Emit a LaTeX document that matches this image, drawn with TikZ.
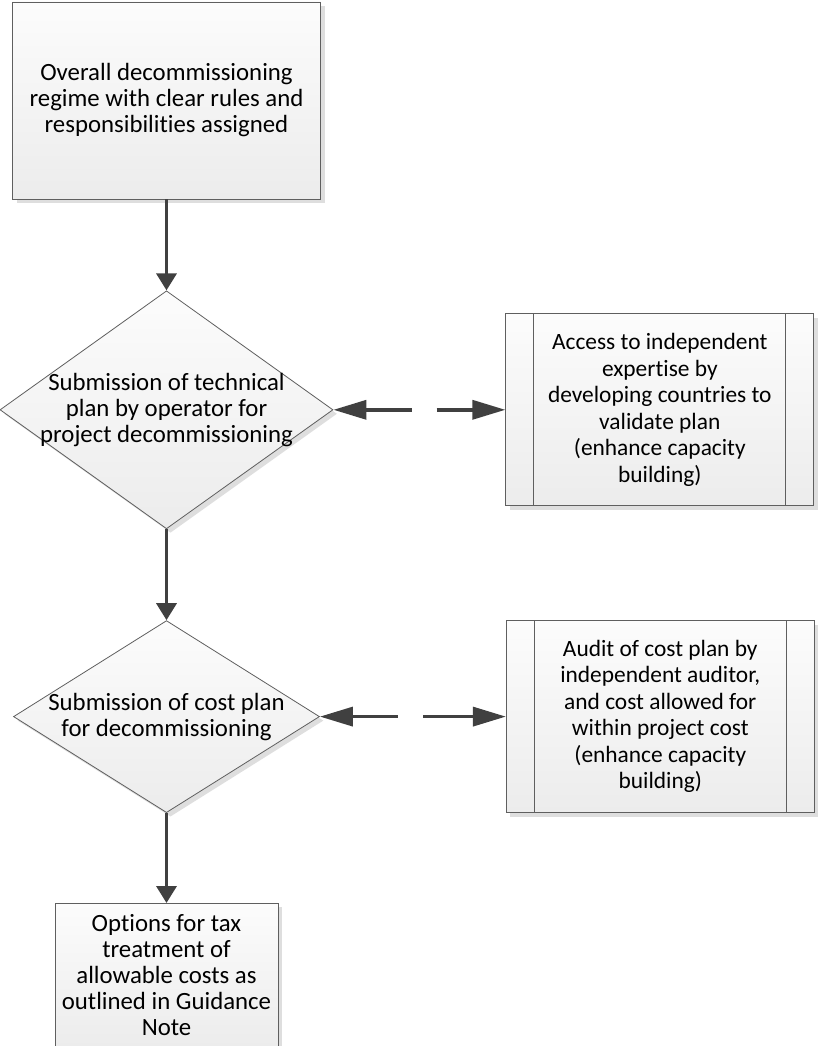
\documentclass[tikz,border=0pt]{standalone}
\usepackage{fontspec}
\setmainfont{Carlito}[Ligatures={NoCommon}]
\usepackage{tikz}
\usetikzlibrary{shapes.geometric,arrows.meta,positioning,shadows}
\definecolor{boxedge}{RGB}{95,95,95}
\definecolor{arrowgray}{RGB}{64,64,64}
\definecolor{boxtop}{RGB}{252,252,252}
\definecolor{boxbottom}{RGB}{236,236,236}
\definecolor{shadowgray}{RGB}{222,222,222}

\begin{document}
\begin{tikzpicture}[x=1pt, y=1pt, node distance=91pt,
  procbox/.style={draw=boxedge, line width=0.8pt, rectangle, top color=boxtop, bottom color=boxbottom,
    drop shadow={shadow xshift=4pt, shadow yshift=-4pt, fill=shadowgray, opacity=1},
    align=center, font=\fontsize{24.8pt}{26pt}\selectfont, inner sep=0pt},
  decision/.style={procbox, shape=diamond, inner xsep=-30pt},
  sidebox/.style={procbox, minimum width=308pt, minimum height=192pt, font=\fontsize{23.4pt}{26.5pt}\selectfont,
    path picture={\draw[boxedge, line width=0.8pt]
      ([xshift=28pt]path picture bounding box.north west) -- ([xshift=28pt]path picture bounding box.south west)
      ([xshift=-28pt]path picture bounding box.north east) -- ([xshift=-28pt]path picture bounding box.south east);}},
  flow/.style={draw=arrowgray, line width=3.5pt, -{Triangle[width=20pt,length=17pt]}},
  link/.style={draw=arrowgray, line width=3.5pt, {Triangle[width=19pt,length=33pt]}-{Triangle[width=19pt,length=33pt]},
    dash pattern=on 46pt off 25pt on 40pt off 0pt}]
  \useasboundingbox (0,0) rectangle (817,-1046);

  \node[procbox, minimum width=308pt, minimum height=197pt] (regime) at (166.5,-100.5)
    {Overall decommissioning\\regime with clear rules and\\responsibilities assigned};
  \node[decision, aspect=1.4, minimum width=333pt, minimum height=238pt, below=of regime] (techplan)
    {Submission of technical\\plan by operator for\\project decommissioning};
  \node[decision, aspect=1.6, minimum width=306pt, minimum height=192pt, below=of techplan] (costplan)
    {Submission of cost plan\\for decommissioning};
  \node[procbox, minimum width=223pt, minimum height=144pt, below=90pt of costplan] (taxnote)
    {Options for tax\\treatment of\\allowable costs as\\outlined in Guidance\\Note};
  \node[sidebox, right=172pt of techplan] (expertise)
    {Access to independent\\expertise by\\developing countries to\\validate plan\\(enhance capacity\\building)};
  \node[sidebox, right=186pt of costplan] (audit)
    {Audit of cost plan by\\independent auditor,\\and cost allowed for\\within project cost\\(enhance capacity\\building)};

  \draw[flow] (regime) -- (techplan);
  \draw[flow] (techplan) -- (costplan);
  \draw[flow] (costplan) -- (taxnote);
  \draw[link] (techplan) -- (expertise);
  \draw[link] (costplan) -- (audit);
\end{tikzpicture}
\end{document}
